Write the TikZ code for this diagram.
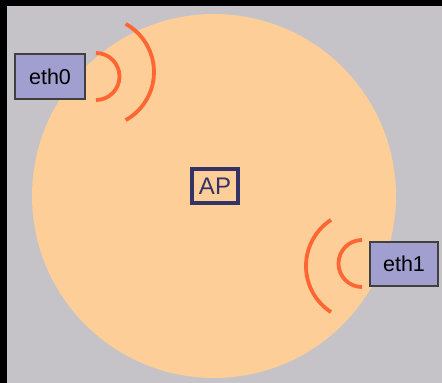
\documentclass[tikz,border=0pt]{standalone}
\usepackage{fontspec}
\setmainfont{Liberation Sans}
\definecolor{bggray}{HTML}{C5C2C8}
\definecolor{peach}{HTML}{FDCE98}
\definecolor{wave}{HTML}{FF6633}
\definecolor{lav}{HTML}{A09FD0}
\definecolor{navy}{HTML}{333366}
\begin{document}
\begin{tikzpicture}[x=1pt,y=-1pt,
  iface/.style={draw=black!75,line width=1.3pt,fill=lav,minimum width=70pt,minimum height=45pt,font=\fontsize{21.5}{21.5}\selectfont,inner sep=0pt},
  apbox/.style={draw=navy,line width=3.5pt,fill=peach,text=navy,minimum width=46pt,minimum height=34pt,font=\fontsize{24}{24}\selectfont,inner sep=0pt},
  wavearc/.style={draw=wave,line width=3.8pt}]
\useasboundingbox (0,0) rectangle (442,383);
\fill[black] (0,0) rectangle (442,383);
\fill[bggray] (7,6) rectangle (442,383);
\fill[peach] (214,196) circle[radius=182];
% eth0 waves
\draw[wavearc] (96,53) arc[start angle=-90,end angle=90,radius=23.5];
\draw[wavearc] ([shift={(-61:55)}]99,72) arc[start angle=-61,end angle=61,radius=55];
% eth1 waves
\draw[wavearc] (362,240) arc[start angle=-90,end angle=-270,radius=23.5];
\draw[wavearc] ([shift={(-123:55)}]361,266) arc[start angle=-123,end angle=-237,radius=55];
\node[iface] (eth0) at (50,76.5) {eth0};
\node[iface,minimum width=68pt,minimum height=44pt] (eth1) at (404,264) {eth1};
\node[apbox] (AP) at (215,186) {AP};
\end{tikzpicture}
\end{document}
